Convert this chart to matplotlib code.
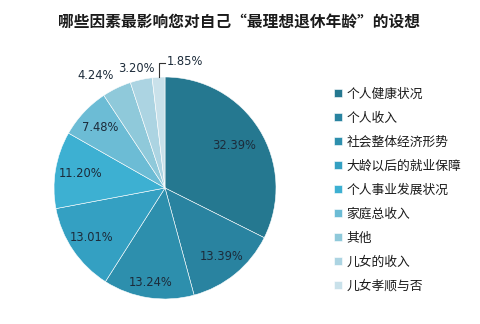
import numpy as np
import matplotlib.pyplot as plt

plt.rcParams['font.family'] = ['Noto Sans CJK SC', 'DejaVu Sans']

# survey answers, share of respondents (%)
factors = ['个人健康状况', '个人收入', '社会整体经济形势', '大龄以后的就业保障',
           '个人事业发展状况', '家庭总收入', '其他', '儿女的收入', '儿女孝顺与否']
shares = [32.39, 13.39, 13.24, 13.01, 11.20, 7.48, 4.24, 3.20, 1.85]
colors = ['#257890', '#2983a0', '#2d8fad', '#34a0c2', '#3db0d2',
          '#6cbcd5', '#8fc9da', '#acd4e2', '#c9e1ea']

fig = plt.figure(figsize=(4.8, 3.24), dpi=100)
fig.patch.set_facecolor('white')

fig.text(0.497, 0.932, '哪些因素最影响您对自己“最理想退休年龄”的设想',
         ha='center', va='center', fontsize=11.3, fontweight='bold', color='#1a1a1a')

# pie: centre (165, 188) px, radius 111 px
cx, cy, r = 165, 188, 111
W, H = 480, 324
ax = fig.add_axes([(cx - r) / W, (H - cy - r) / H, 2 * r / W, 2 * r / H])
wedges, _ = ax.pie(shares, colors=colors, startangle=90, counterclock=False,
                   wedgeprops=dict(edgecolor='white', linewidth=0.4))
ax.set_xlim(-1, 1)
ax.set_ylim(-1, 1)
ax.set_aspect('auto')
ax.axis('off')

# percentage labels: (radius, angle nudge in degrees)
label_pos = [(0.73, 0), (0.80, 0), (0.86, 0), (0.80, 0), (0.77, 0), (0.80, 0),
             (1.19, 6), (1.11, 1)]
for w, val, (lr, da) in zip(wedges, shares, label_pos):
    ang = np.deg2rad((w.theta1 + w.theta2) / 2 + da)
    ax.text(lr * np.cos(ang), lr * np.sin(ang), f'{val:.2f}%',
            ha='center', va='center', fontsize=8.3, color='#1c2b3a',
            family='DejaVu Sans', clip_on=False)

# smallest slice gets a leader line
w = wedges[-1]
ang = np.deg2rad((w.theta1 + w.theta2) / 2)
x0, y0 = np.cos(ang), np.sin(ang)
ax.plot([x0, x0, x0 + 0.06], [y0, 1.13, 1.13], color='#333333', lw=0.8, clip_on=False)
ax.text(x0 + 0.07, 1.14, f'{shares[-1]:.2f}%', ha='left', va='center',
        fontsize=8.3, color='#1c2b3a', family='DejaVu Sans', clip_on=False)

leg = fig.legend(wedges, factors, loc='upper left', bbox_to_anchor=(0.685, 0.745),
                 frameon=False, fontsize=9.2, handlelength=0.6, handleheight=0.6,
                 handletextpad=0.4, labelspacing=0.86, borderaxespad=0)
for t in leg.get_texts():
    t.set_color('#1a1a1a')

fig.savefig('out.png', dpi=100)
